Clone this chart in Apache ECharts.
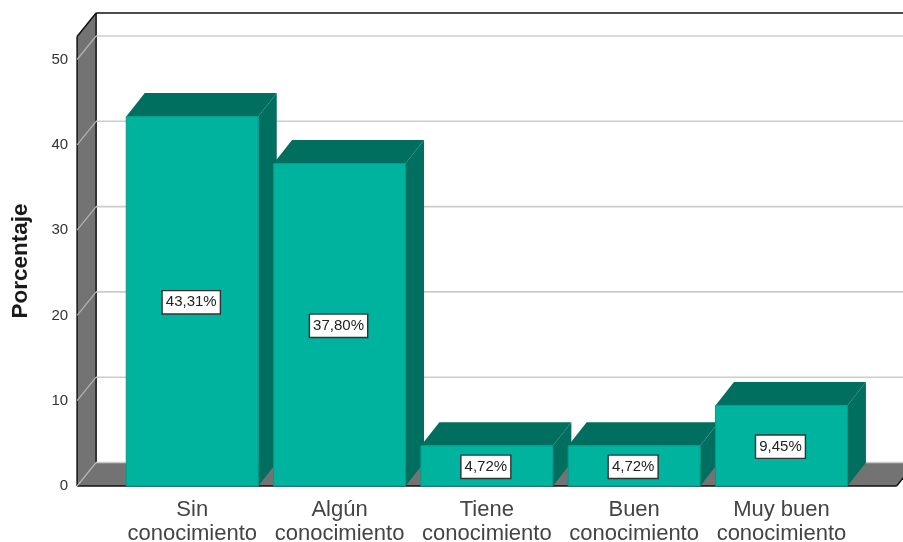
<!DOCTYPE html>
<html><head><meta charset="utf-8">
<style>html,body{margin:0;padding:0;background:#fff}#c{width:903px;height:542px}</style>
<script src="https://cdn.jsdelivr.net/npm/echarts@6/dist/echarts.min.js"></script>
</head><body><div id="c"></div>
<script>
const categories = ["Sin\nconocimiento","Algún\nconocimiento","Tiene\nconocimiento","Buen\nconocimiento","Muy buen\nconocimiento"];
const values = [43.31,37.80,4.72,4.72,9.45];
const labels = ["43,31%","37,80%","4,72%","4,72%","9,45%"];
const ticks = [0,10,20,30,40,50];

const DX = 19, DY = 23.5, PADX = 41.5, TOPEXTRA = 23, BARW = 132;
const FRONT = '#00B39E', DARK = '#006F60', GRAY = '#737373', GRID = '#CCCCCC', INK = '#111111';
const FONT = 'Liberation Sans, Arial, sans-serif';
const chart = echarts.init(document.getElementById('c'), null, {renderer:'canvas'});

function wallItem(params, api){
  const g = params.coordSys;
  const l = g.x - PADX, r = g.x + g.width + PADX, b = g.y + g.height, t = g.y - TOPEXTRA;
  const line = (x1,y1,x2,y2,c,w)=>({type:'line',shape:{x1,y1,x2,y2},style:{stroke:c,lineWidth:w}});
  return {type:'group',children:[
    {type:'polygon',shape:{points:[[l,b],[l,t],[l+DX,t-DY],[l+DX,b-DY]]},style:{fill:GRAY}},
    {type:'polygon',shape:{points:[[l,b],[l+DX,b-DY],[r+DX,b-DY],[r,b]]},style:{fill:GRAY}},
    line(l+DX,t-DY,r+DX+20,t-DY,INK,1.5),
    line(l+DX,t-DY,l+DX,b-DY,INK,1.5),
    line(l,t,l,b,INK,1.5),
    line(l,t,l+DX,t-DY,INK,1.5),
    line(l,b,r,b,INK,1.5),
    line(r,b,r+DX,b-DY,INK,1.5)
  ]};
}
function gridItem(params, api){
  const g = params.coordSys;
  const l = g.x - PADX, r = g.x + g.width + PADX;
  const y = api.coord([0, api.value(0)])[1];
  return {type:'group',children:[
    {type:'line',shape:{x1:l,y1:y,x2:l+DX,y2:y-DY},style:{stroke:'#B4B4B4',lineWidth:1.2}},
    {type:'line',shape:{x1:l+DX,y1:y-DY,x2:r+DX+20,y2:y-DY},style:{stroke:GRID,lineWidth:1.6}}
  ]};
}
function barItem(params, api){
  const c = api.coord([api.value(0), api.value(1)]);
  const base = api.coord([api.value(0), 0]);
  const x0 = c[0]-BARW/2, x1 = c[0]+BARW/2, yt = c[1], yb = base[1];
  const dx = 18.5, dy = 23.5;
  return {type:'group',children:[
    {type:'polygon',shape:{points:[[x1,yt],[x1+dx,yt-dy],[x1+dx,yb-dy],[x1,yb]]},style:{fill:DARK}},
    {type:'polygon',shape:{points:[[x0,yt],[x0+dx,yt-dy],[x1+dx,yt-dy],[x1,yt]]},style:{fill:DARK}},
    {type:'rect',shape:{x:x0,y:yt,width:BARW,height:yb-yt},style:{fill:FRONT,stroke:'#009C89',lineWidth:1}},
    {type:'text',x:c[0]-1,y:(yt+yb)/2+1,style:{
      text:labels[params.dataIndex],fontFamily:FONT,fontSize:15,fill:'#222',
      align:'center',verticalAlign:'middle',backgroundColor:'#fff',borderColor:'#333',borderWidth:1.4,padding:[4,3,3,3]
    }}
  ]};
}
chart.setOption({
  animation:false,
  backgroundColor:'#fff',
  grid:{left:118.6,top:59.5,width:736.5,height:426.5,outerBoundsMode:'none'},
  graphic:[{type:'text',x:21,y:261,rotation:Math.PI/2,z:10,
    style:{text:'Porcentaje',fontFamily:FONT,fontSize:22.5,fontWeight:'bold',fill:'#1a1a1a',align:'center',verticalAlign:'middle'}}],
  xAxis:{type:'category',data:categories,
    axisLine:{show:false},axisTick:{show:false},splitLine:{show:false},
    axisLabel:{interval:0,color:'#444',fontFamily:FONT,fontSize:22,lineHeight:24,margin:12}},
  yAxis:{type:'value',min:0,max:50,interval:10,offset:41.5,
    axisLine:{show:false},axisTick:{show:false},splitLine:{show:false},
    axisLabel:{color:'#333',fontFamily:FONT,fontSize:15,margin:9,padding:[5,0,0,0]}},
  series:[
    {type:'custom',z:1,data:[[0]],renderItem:wallItem,silent:true},
    {type:'custom',z:2,data:ticks.map(t=>[t]),encode:{y:0},renderItem:gridItem,silent:true},
    {type:'custom',z:3,data:values.map((v,i)=>[i,v]),encode:{x:0,y:1},renderItem:barItem}
  ]
});
</script></body></html>
